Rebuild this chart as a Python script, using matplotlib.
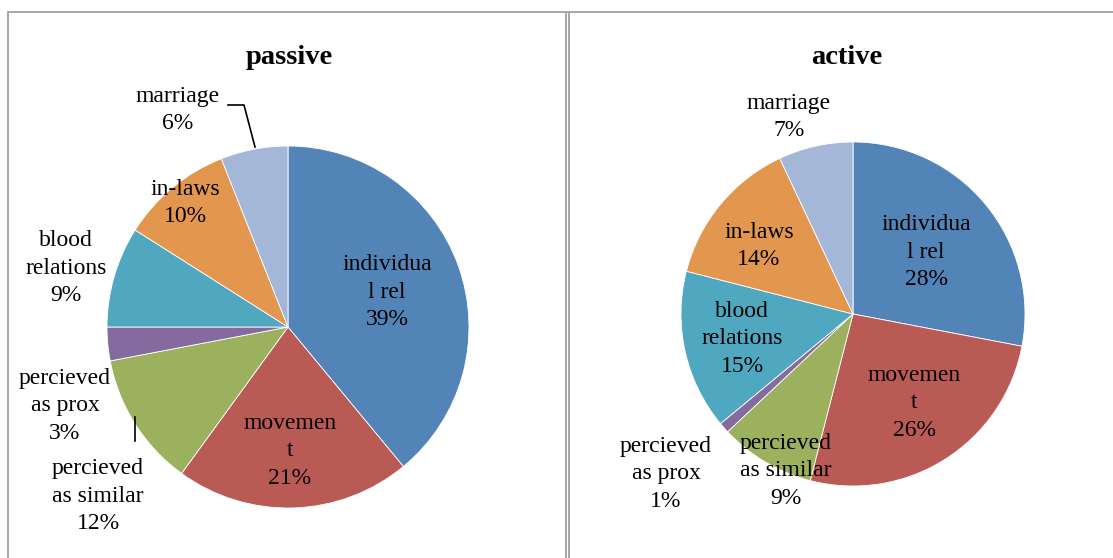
import matplotlib
matplotlib.use("Agg")
from matplotlib import pyplot as plt
from matplotlib.lines import Line2D

plt.rcParams['font.family'] = ['Liberation Serif', 'DejaVu Serif']

# Data
categories = ["individua\nl rel", "movemen\nt", "percieved\nas similar",
              "percieved\nas prox", "blood\nrelations", "in-laws", "marriage"]
passive_vals = [39, 21, 12, 3, 9, 10, 6]
active_vals = [28, 26, 9, 1, 15, 14, 7]
colors = ['#5384B8', '#BA5A55', '#9CB15E', '#846A9E', '#4FA8C0', '#E3964E', '#A4B7D8']

W, H = 1113, 558
fig = plt.figure(figsize=(W / 100, H / 100), dpi=100)

# panel borders (pixels)
def vline(x, y0, y1):
    fig.add_artist(Line2D([x / W, x / W], [1 - y0 / H, 1 - y1 / H], color='#A6A6A6', lw=1.4))

def hline(x0, x1, y):
    fig.add_artist(Line2D([x0 / W, x1 / W], [1 - y / H, 1 - y / H], color='#A6A6A6', lw=1.4))

hline(8, W, 12)
vline(8, 12, H)
vline(566, 12, H)
vline(569, 12, H)


def draw_pie(cx, cy, r, values, title, title_xy, label_xy):
    ax = fig.add_axes([(cx - r) / W, (H - cy - r) / H, 2 * r / W, 2 * r / H])
    ax.pie(values, colors=colors, startangle=90, counterclock=False,
           radius=1, wedgeprops=dict(edgecolor='white', linewidth=0.6))
    ax.set_xlim(-1, 1)
    ax.set_ylim(-1, 1)
    ax.set_aspect('auto')
    ax.axis('off')
    fig.text(title_xy[0] / W, 1 - title_xy[1] / H, title, ha='center', va='center',
             fontsize=20.5, fontweight='bold')
    for name, v, (x, y) in zip(categories, values, label_xy):
        fig.text(x / W, 1 - y / H, f"{name}\n{v}%", ha='center', va='center',
                 fontsize=17, linespacing=1.42)
    return ax


draw_pie(288, 327, 181, passive_vals, "passive", (289, 58),
         [(387, 292), (290, 451), (98, 496), (65, 406), (66, 268), (185, 203), (178, 110)])
draw_pie(853, 314, 172, active_vals, "active", (847, 58),
         [(926, 252), (914, 403), (786, 471), (666, 474), (742, 339), (759, 246), (789, 117)])

# leader lines
def leader(pts):
    xs = [p[0] / W for p in pts]
    ys = [1 - p[1] / H for p in pts]
    fig.add_artist(Line2D(xs, ys, color='black', lw=1.2))

leader([(228, 105), (244, 105), (255, 147)])
leader([(135, 417), (135, 441)])

fig.savefig("out.png", dpi=100, facecolor='white')
